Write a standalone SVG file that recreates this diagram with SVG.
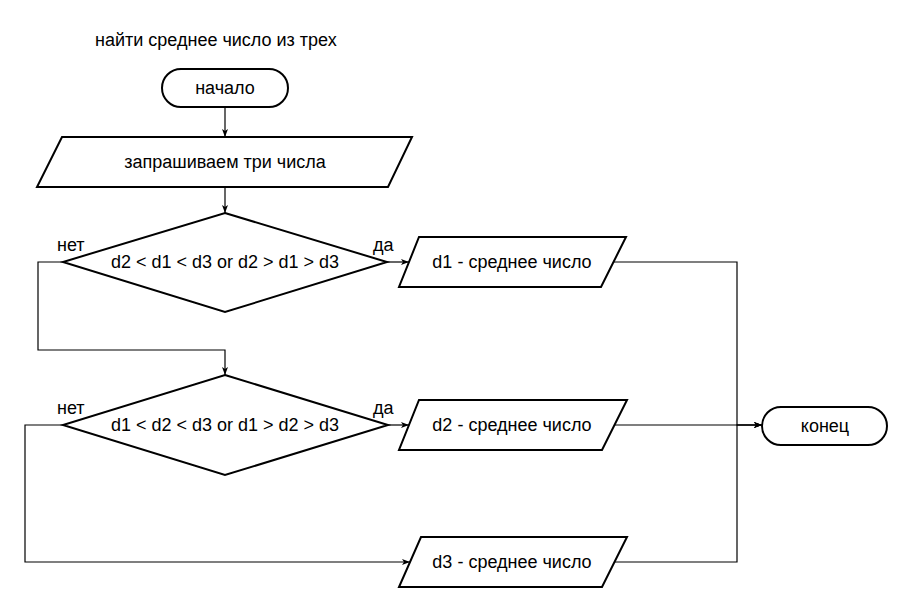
<svg xmlns="http://www.w3.org/2000/svg" width="913" height="613" viewBox="0 0 913 613">
<defs>
<style>
.shape{fill:#fff;stroke:#000;stroke-width:2}
.conn{fill:none;stroke:#000;stroke-width:1.2}
text{font-family:"Liberation Sans",Arial,sans-serif;font-size:18px;fill:#000}
.c{text-anchor:middle}
</style>
<marker id="arr" viewBox="0 0 8 6" refX="8" refY="3" markerWidth="8" markerHeight="6" markerUnits="userSpaceOnUse" orient="auto">
<path d="M0,0 L8,3 L0,6 L2,3 Z" fill="#000"/>
</marker>
</defs>
<rect width="913" height="613" fill="#fff"/>
<text x="95" y="46">найти среднее число из трех</text>
<g id="connectors">
<path class="conn" d="M225,107 V137" marker-end="url(#arr)"/>
<path class="conn" d="M225,187 V213" marker-end="url(#arr)"/>
<path class="conn" d="M387,262 H409" marker-end="url(#arr)"/>
<path class="conn" d="M63,262 H38 V350 H225 V375" marker-end="url(#arr)"/>
<path class="conn" d="M388,425 H409" marker-end="url(#arr)"/>
<path class="conn" d="M63,425 H25 V562 H410" marker-end="url(#arr)"/>
<path class="conn" d="M614,262 H737 V425 H762" marker-end="url(#arr)"/>
<path class="conn" d="M614,425 H762" marker-end="url(#arr)"/>
<path class="conn" d="M614,562 H737 V425 H762" marker-end="url(#arr)"/>
<text x="57" y="251">нет</text>
<text x="373" y="251">да</text>
<text x="57" y="414">нет</text>
<text x="373" y="414">да</text>
</g>
<g id="start">
<rect class="shape" x="162" y="69" width="126" height="38" rx="19"/>
<text class="c" x="225" y="94">начало</text>
</g>
<g id="input">
<polygon class="shape" points="62,137 412,137 388,187 37,187"/>
<text class="c" x="225" y="168">запрашиваем три числа</text>
</g>
<g id="cond1">
<polygon class="shape" points="225,213 387,262 225,312 63,262"/>
<text class="c" x="225" y="268">d2 &lt; d1 &lt; d3 or d2 &gt; d1 &gt; d3</text>
</g>
<g id="cond2">
<polygon class="shape" points="225,375 388,425 225,475 63,425"/>
<text class="c" x="225" y="431">d1 &lt; d2 &lt; d3 or d1 &gt; d2 &gt; d3</text>
</g>
<g id="out1">
<polygon class="shape" points="419,237 626,237 601,287 399,287"/>
<text class="c" x="512" y="268">d1 - среднее число</text>
</g>
<g id="out2">
<polygon class="shape" points="419,400 627,400 602,450 399,450"/>
<text class="c" x="512" y="431">d2 - среднее число</text>
</g>
<g id="out3">
<polygon class="shape" points="421,537 627,537 602,587 399,587"/>
<text class="c" x="512" y="568">d3 - среднее число</text>
</g>
<g id="end">
<rect class="shape" x="762" y="407" width="125" height="38" rx="19"/>
<text class="c" x="825" y="432">конец</text>
</g>
</svg>
